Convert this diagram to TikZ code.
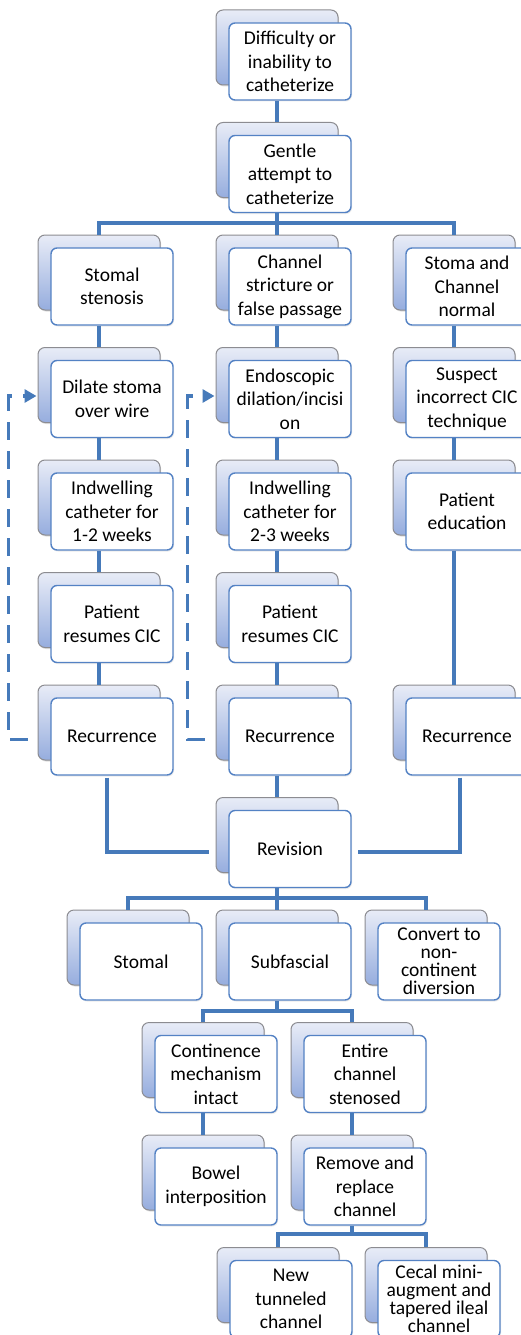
\documentclass[tikz,border=0pt]{standalone}
\usepackage{fontspec}
\setmainfont{Carlito}
\usetikzlibrary{calc,arrows.meta,shadows}
\definecolor{lineblue}{RGB}{70,122,186}
\definecolor{frontedge}{RGB}{84,130,196}
\definecolor{backedge}{RGB}{140,140,145}
\definecolor{backtop}{RGB}{232,236,247}
\definecolor{backbot}{RGB}{150,173,222}
\tikzset{
 backbox/.style={draw=backedge, line width=1pt, rounded corners=7pt, top color=backtop, bottom color=backbot, minimum width=122pt, minimum height=75pt, inner sep=0pt, drop shadow={opacity=0.25, shadow xshift=1pt, shadow yshift=-1.5pt}},
 frontbox/.style={draw=frontedge, line width=1.4pt, rounded corners=6pt, fill=white, minimum width=122pt, minimum height=77pt, inner sep=0pt, align=center, font=\fontsize{19.5}{23.5}\selectfont, drop shadow={opacity=0.15, shadow xshift=1pt, shadow yshift=-1.5pt}},
 tightbox/.style={font=\fontsize{19.5}{18}\selectfont},
 conn/.style={draw=lineblue, line width=3.8pt},
 backloop/.style={conn, dash pattern=on 18pt off 11pt, -{Triangle[length=12pt,width=13pt]}}
}
\newcommand{\boxunit}[5][]{%
 \node[backbox] (#2B) at ({#3+61},{-(47.5+112.5*#4)}) {};
 \node[frontbox,#1] (#2F) at ({#3+74},{-(61.5+112.5*#4)}) {#5};}
\begin{document}
\begin{tikzpicture}[x=1pt,y=1pt]
\useasboundingbox (0,0) rectangle (521,-1335);
\fill[white] (0,0) rectangle (521,-1335);
\clip (0,0) rectangle (521,-1335);
% nodes
\boxunit{diff}{216}{0}{Difficulty or\\inability to\\catheterize}
\boxunit{gent}{216}{1}{Gentle\\attempt to\\catheterize}
\boxunit{sten}{38}{2}{Stomal\\stenosis}
\boxunit{chan}{216}{2}{Channel\\stricture or\\false passage}
\boxunit{norm}{393}{2}{Stoma and\\Channel\\normal}
\boxunit{dil}{38}{3}{Dilate stoma\\over wire}
\boxunit{endo}{216}{3}{Endoscopic\\dilation/incisi\\on}
\boxunit{susp}{393}{3}{Suspect\\incorrect CIC\\technique}
\boxunit{indA}{38}{4}{Indwelling\\catheter for\\1-2 weeks}
\boxunit{indB}{216}{4}{Indwelling\\catheter for\\2-3 weeks}
\boxunit{edu}{393}{4}{Patient\\education}
\boxunit{resA}{38}{5}{Patient\\resumes CIC}
\boxunit{resB}{216}{5}{Patient\\resumes CIC}
\boxunit{recA}{38}{6}{Recurrence}
\boxunit{recB}{216}{6}{Recurrence}
\boxunit{recC}{393}{6}{Recurrence}
\boxunit{rev}{216}{7}{Revision}
\boxunit{stom}{67}{8}{Stomal}
\boxunit{subf}{216}{8}{Subfascial}
\boxunit[tightbox]{conv}{365}{8}{Convert to\\non-\\continent\\diversion}
\boxunit{cont}{142}{9}{Continence\\mechanism\\intact}
\boxunit{enti}{291}{9}{Entire\\channel\\stenosed}
\boxunit{bow}{142}{10}{Bowel\\interposition}
\boxunit{remo}{291}{10}{Remove and\\replace\\channel}
\boxunit{newt}{217}{11}{New\\tunneled\\channel}
\boxunit[tightbox]{ceca}{365}{11}{Cecal mini-\\augment and\\tapered ileal\\channel}
% junctions
\coordinate (j1) at ($(gentB.center |- gentF.south)+(0,-10)$);
\coordinate (j2) at ($(revB.center |- revF.south)+(0,-9.5)$);
\coordinate (j3) at ($(subfB.center |- subfF.south)+(0,-10)$);
\coordinate (j4) at ($(remoB.center |- remoF.south)+(0,-8.5)$);
% connectors
\draw[conn] (diffB.center |- diffF.south) -- (gentB.north);
\draw[conn] (gentB.center |- gentF.south) -- (j1);
\draw[conn] (stenB.north) |- (j1) -| (normB.north);
\draw[conn] (j1) -- (chanB.north);
\draw[conn] (stenB.center |- stenF.south) -- (dilB.north);
\draw[conn] (dilB.center |- dilF.south) -- (indAB.north);
\draw[conn] (indAB.center |- indAF.south) -- (resAB.north);
\draw[conn] (resAB.center |- resAF.south) -- (recAB.north);
\draw[conn] (chanB.center |- chanF.south) -- (endoB.north);
\draw[conn] (endoB.center |- endoF.south) -- (indBB.north);
\draw[conn] (indBB.center |- indBF.south) -- (resBB.north);
\draw[conn] (resBB.center |- resBF.south) -- (recBB.north);
\draw[conn] (normB.center |- normF.south) -- (suspB.north);
\draw[conn] (suspB.center |- suspF.south) -- (eduB.north);
\draw[conn] (eduB.center |- eduF.south) -- (recCB.north);
\draw[conn] (recBB.center |- recBF.south) -- (revB.north);
\draw[conn] ($(recAF.south)+(-5,-2)$) |- ($(revF.west)+(-19,-3)$);
\draw[conn] ($(recCF.south)+(-7,-2)$) |- ($(revF.east)+(6,-3)$);
\draw[conn] (revB.center |- revF.south) -- (j2);
\draw[conn] (stomB.north) |- (j2) -| (convB.north);
\draw[conn] (j2) -- (subfB.north);
\draw[conn] (subfB.center |- subfF.south) -- (j3);
\draw[conn] (contB.north) |- (j3) -| (entiB.north);
\draw[conn] (contB.center |- contF.south) -- (bowB.north);
\draw[conn] (entiB.center |- entiF.south) -- (remoB.north);
\draw[conn] (remoB.center |- remoF.south) -- (j4);
\draw[conn] (newtB.north) |- (j4) -| (cecaB.north);
% dashed loops
\draw[backloop] ($(recAB.west |- recAF.center)+(-10,-3)$) -- ++(-19,0) |- ($(dilB.west |- dilF.center)+(-1,3)$);
\draw[backloop] ($(recBB.west |- recBF.center)+(-11,-3)$) -- ++(-17,0) |- ($(endoB.west |- endoF.center)+(-1,3)$);
\end{tikzpicture}
\end{document}
